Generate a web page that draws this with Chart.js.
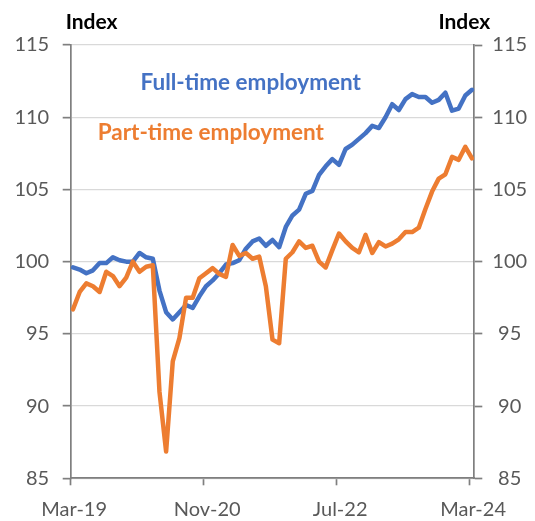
<!DOCTYPE html>
<html><head><meta charset="utf-8">
<script src="https://cdn.jsdelivr.net/npm/chart.js@4.4.1/dist/chart.umd.min.js"></script>
<style>html,body{margin:0;padding:0;background:#fff;} canvas{display:block;}</style>
</head><body>
<canvas id="c" width="535" height="521"></canvas>
<script>
const months = [
 'Mar-19','Apr-19','May-19','Jun-19','Jul-19','Aug-19','Sep-19','Oct-19','Nov-19','Dec-19',
 'Jan-20','Feb-20','Mar-20','Apr-20','May-20','Jun-20','Jul-20','Aug-20','Sep-20','Oct-20',
 'Nov-20','Dec-20','Jan-21','Feb-21','Mar-21','Apr-21','May-21','Jun-21','Jul-21','Aug-21',
 'Sep-21','Oct-21','Nov-21','Dec-21','Jan-22','Feb-22','Mar-22','Apr-22','May-22','Jun-22',
 'Jul-22','Aug-22','Sep-22','Oct-22','Nov-22','Dec-22','Jan-23','Feb-23','Mar-23','Apr-23',
 'May-23','Jun-23','Jul-23','Aug-23','Sep-23','Oct-23','Nov-23','Dec-23','Jan-24','Feb-24',
 'Mar-24'];
const fullTime = [
 99.6, 99.45, 99.2, 99.4, 99.9, 99.9, 100.3, 100.1, 100.0, 100.0,
 100.6, 100.3, 100.2, 98.0, 96.5, 96.0, 96.5, 97.0, 96.8, 97.6,
 98.3, 98.7, 99.2, 99.8, 99.9, 100.1, 100.9, 101.4, 101.6, 101.1,
 101.5, 101.0, 102.4, 103.2, 103.6, 104.7, 104.9, 106.0, 106.6, 107.1,
 106.7, 107.8, 108.1, 108.5, 108.9, 109.4, 109.25, 110.0, 110.9, 110.5,
 111.25, 111.6, 111.4, 111.4, 111.0, 111.2, 111.7, 110.45, 110.6, 111.5,
 111.9];
const partTime = [
 96.7, 97.9, 98.5, 98.3, 97.9, 99.3, 99.0, 98.3, 98.9, 100.0,
 99.3, 99.65, 99.75, 91.0, 86.85, 93.1, 94.7, 97.5, 97.5, 98.85,
 99.2, 99.55, 99.15, 98.95, 101.15, 100.4, 100.6, 100.2, 100.35, 98.3,
 94.6, 94.35, 100.2, 100.65, 101.4, 100.95, 101.1, 100.0, 99.6, 100.8,
 101.95, 101.4, 100.95, 100.65, 101.85, 100.6, 101.35, 101.05, 101.25, 101.55,
 102.05, 102.05, 102.35, 103.65, 104.85, 105.75, 106.05, 107.25, 107.05, 107.95,
 107.15];
const xTickLabels = ['Mar-19','Nov-20','Jul-22','Mar-24'];
const yMin = 85, yMax = 115, yStep = 5;
const axisTitle = 'Index';
const seriesNames = ['Full-time employment', 'Part-time employment'];
const colors = { full: '#4472C4', part: '#ED7D31' };

const OFFSET = 0.35; // data points sit mid-month on the date axis
const toXY = arr => arr.map((v, i) => ({ x: i + OFFSET, y: v }));
const xTickValues = xTickLabels.map(l => months.indexOf(l));

const FONT = 'Lato';
const tickFont = { family: FONT, size: 20 };
const AXIS = '#7f7f7f';

const textPlugin = {
  id: 'texts',
  afterDraw(chart) {
    const ctx = chart.ctx, a = chart.chartArea;
    const xs = chart.scales.x, ys = chart.scales.y;
    ctx.save();
    ctx.textBaseline = 'alphabetic';
    ctx.font = 'bold 21px ' + FONT;
    ctx.fillStyle = '#000';
    ctx.textAlign = 'left';
    ctx.fillText(axisTitle, a.left - 5, a.top - 16);
    ctx.textAlign = 'right';
    ctx.fillText(axisTitle, a.right + 16, a.top - 16);
    ctx.font = 'bold 22.5px ' + FONT;
    ctx.textAlign = 'left';
    ctx.fillStyle = colors.full;
    ctx.fillText(seriesNames[0], xs.getPixelForValue(10.5), ys.getPixelForValue(111.9));
    ctx.fillStyle = colors.part;
    ctx.fillText(seriesNames[1], xs.getPixelForValue(4.05), ys.getPixelForValue(108.45));
    ctx.restore();
  }
};

new Chart(document.getElementById('c'), {
  type: 'line',
  data: {
    datasets: [
      { label: seriesNames[1], data: toXY(partTime), borderColor: colors.part, borderWidth: 4.5,
        pointRadius: 0, tension: 0, borderJoinStyle: 'round', borderCapStyle: 'round', yAxisID: 'y' },
      { label: seriesNames[0], data: toXY(fullTime), borderColor: colors.full, borderWidth: 4.5,
        pointRadius: 0, tension: 0, borderJoinStyle: 'round', borderCapStyle: 'round', yAxisID: 'y' }
    ]
  },
  options: {
    responsive: false,
    animation: false,
    devicePixelRatio: 1,
    layout: { padding: { top: 45, left: 0, right: 0, bottom: 0 } },
    plugins: { legend: { display: false }, tooltip: { enabled: false } },
    scales: {
      x: {
        type: 'linear', min: 0, max: 60.7,
        afterBuildTicks: s => { s.ticks = xTickValues.map(v => ({ value: v })); },
        afterFit: s => { s.height = 42.7; },
        ticks: { callback: v => months[v], font: tickFont, color: '#595959', padding: 12,
                 maxRotation: 0, autoSkip: false, labelOffset: 3.5 },
        grid: { drawOnChartArea: false, drawTicks: true, tickLength: 7, tickColor: AXIS, tickWidth: 1.7 },
        border: { display: true, color: AXIS, width: 1.7 }
      },
      y: {
        position: 'left', min: yMin, max: yMax,
        afterFit: s => { s.width = 70.7; },
        ticks: { stepSize: yStep, font: tickFont, color: '#595959', padding: 13.5 },
        grid: { color: '#d9d9d9', lineWidth: 1.3, drawTicks: true, tickLength: 8, tickColor: AXIS, tickWidth: 1.7 },
        border: { display: true, color: AXIS, width: 1.7 }
      },
      y2: {
        position: 'right', min: yMin, max: yMax,
        afterFit: s => { s.width = 60.7; },
        ticks: { stepSize: yStep, font: tickFont, color: '#595959', padding: 10, crossAlign: 'center' },
        grid: { drawOnChartArea: false, drawTicks: true, tickLength: 8, tickColor: AXIS, tickWidth: 1.7 },
        border: { display: true, color: AXIS, width: 1.7 }
      }
    }
  },
  plugins: [textPlugin]
});
</script>
</body></html>
